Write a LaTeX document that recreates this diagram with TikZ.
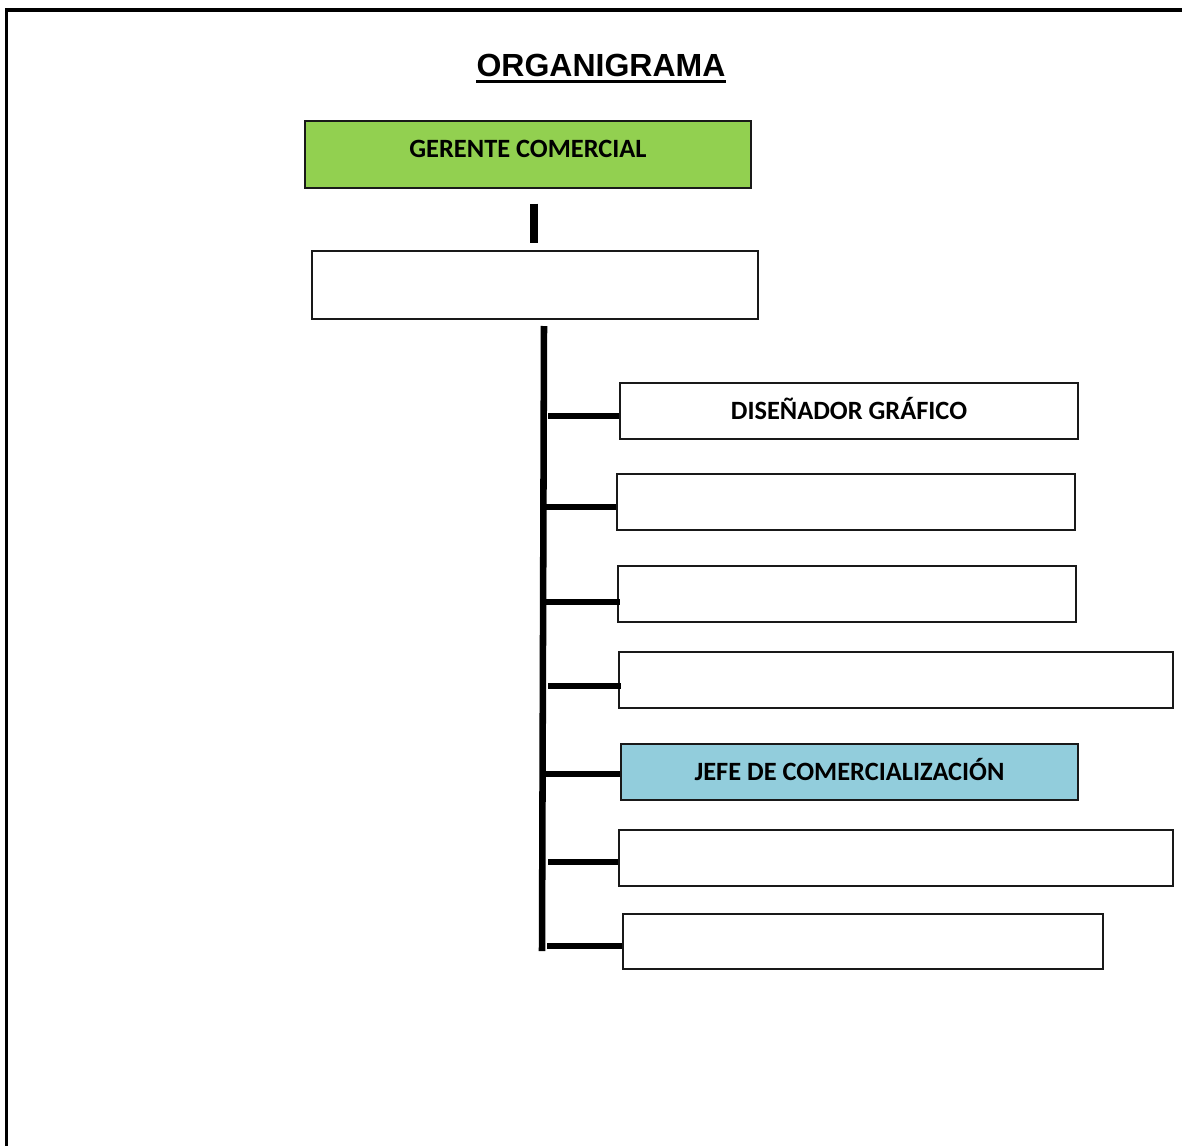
\documentclass[tikz,border=0pt]{standalone}
\usepackage{fontspec}
\setmainfont{Carlito}
\newfontfamily\titulofont{Liberation Sans}
\definecolor{verdegerente}{HTML}{92D050}
\definecolor{azuljefe}{HTML}{92CDDC}
\tikzset{
  cargo/.style={draw=black!90,line width=1.4pt,inner sep=0pt,
    font=\fontsize{19.8}{24}\selectfont\bfseries,
    text height=12.8pt,text depth=0pt},
  tramo/.style={line width=4.9pt},
  marco/.style={line width=2.3pt}
}
\begin{document}
\begin{tikzpicture}[x=0.75pt,y=-0.75pt]
\useasboundingbox (0,0) rectangle (1182,1146);
% hoja
\path[marco,draw] (6.5,1146) to (6.5,10) to (1182,10);
\node[font=\titulofont\fontsize{24}{28}\selectfont\bfseries,inner sep=0pt,
  text height=17.2pt,text depth=0pt] (titulo) at (601,65) {ORGANIGRAMA};
\path[line width=2.3pt,draw] ([yshift=-3.4pt]titulo.south west)
  to ([yshift=-3.4pt]titulo.south east);
% cajas
\node[cargo,fill=verdegerente,minimum width=334.5pt,minimum height=50.2pt,
  text depth=9pt] (gerente) at (528,154.5) {GERENTE COMERCIAL};
\node[cargo,minimum width=334.5pt,minimum height=51pt] (mando) at (535,285) {};
\node[cargo,minimum width=343.5pt,minimum height=42pt] (c1) at (849,411) {DISEÑADOR GRÁFICO};
\node[cargo,minimum width=343.5pt,minimum height=42pt] (c2) at (846,502) {};
\node[cargo,minimum width=343.5pt,minimum height=42pt] (c3) at (847,594) {};
\node[cargo,minimum width=415.5pt,minimum height=42pt] (c4) at (896,680) {};
\node[cargo,fill=azuljefe,minimum width=342.8pt,minimum height=42pt] (c5) at (849.5,772) {JEFE DE COMERCIALIZACIÓN};
\node[cargo,minimum width=415.5pt,minimum height=42pt] (c6) at (896,858) {};
\node[cargo,minimum width=360pt,minimum height=41.3pt] (c7) at (863,941.5) {};
% lineas
\coordinate (corte1) at ([xshift=4.5pt,yshift=-11pt]gerente.south);
\coordinate (corte2) at ([yshift=5.3pt]corte1 |- mando.north);
\path[line width=5.3pt,draw] (corte1) to (corte2);
\coordinate (tronco) at (544,326);
\coordinate (tronco2) at (542,951);
\path[tramo,draw] (tronco) to (tronco2);
\path[tramo,draw] ([yshift=-3.75pt]c1.west) to ([xshift=3pt,yshift=-3.75pt]c1.west -| tronco);
\path[tramo,draw] ([yshift=-3.75pt]c2.west) to ([yshift=-3.75pt]c2.west -| tronco);
\path[tramo,draw] ([xshift=2pt,yshift=-6pt]c3.west) to ([yshift=-6pt]c3.west -| tronco);
\path[tramo,draw] ([xshift=2pt,yshift=-4.5pt]c4.west) to ([xshift=3pt,yshift=-4.5pt]c4.west -| tronco);
\path[tramo,draw] ([yshift=-1.5pt]c5.west) to ([yshift=-1.5pt]c5.west -| tronco);
\path[tramo,draw] ([yshift=-3pt]c6.west) to ([xshift=3pt,yshift=-3pt]c6.west -| tronco);
\path[tramo,draw] ([yshift=-3.4pt]c7.west) to ([xshift=2pt,yshift=-3.4pt]c7.west -| tronco);
\end{tikzpicture}
\end{document}
